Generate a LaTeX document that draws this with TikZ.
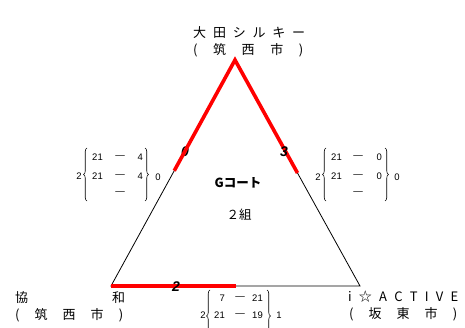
\documentclass[tikz,border=0pt]{standalone}
\usepackage{fontspec}
\setmainfont{Liberation Sans}
\newfontfamily\jpfont{Noto Sans CJK JP}
\usetikzlibrary{calc,decorations.pathreplacing}

\tikzset{
    team/.style={anchor=west, inner sep=0pt, font=\jpfont\fontsize{13}{13}\selectfont},
    pts/.style={inner sep=0pt, font=\bfseries\itshape\fontsize{14}{14}\selectfont},
    res/.style={inner sep=0pt, font=\fontsize{9.5}{10}\selectfont},
    won/.style={red, line width=3.6pt},
    curly/.style={decorate, decoration={brace, amplitude=3.5pt}, line width=0.6pt},
}

\begin{document}
\begin{tikzpicture}[x=1pt,y=-1pt]
    \clip (0,0) rectangle (465,328);
    \fill[white] (0,0) rectangle (465,328);

    \coordinate (top) at (235,60);
    \coordinate (bl) at (111,286);
    \coordinate (br) at (360,286);
    \coordinate (lhalf) at ($(top)!0.49!(bl)$);
    \coordinate (rhalf) at ($(top)!0.5!(br)$);
    \coordinate (bhalf) at ($(bl)!0.5!(br)$);

    \draw[line width=0.8pt] (top) -- (bl) -- (br) -- cycle;
    \node[pts] (p1) at (185,152) {0};
    \draw[won] (lhalf) -- (top) -- (rhalf);
    \draw[won] (bl) -- (bhalf);
    \node[pts] (p2) at (284,152) {3};
    \node[pts] (p3) at (176,287) {2};

    \node[team] (t1) at (193,33) {\makebox[112pt][s]{大\hfill 田\hfill シ\hfill ル\hfill キ\hfill ー}};
    \node[team] (t1b) at (193,50) {\makebox[110pt][s]{(\hfill 筑\hfill 西\hfill 市\hfill )}};
    \node[team] (t2) at (15,298) {\makebox[110pt][s]{協\hfill 和}};
    \node[team] (t2b) at (15,315) {\makebox[108pt][s]{(\hfill 筑\hfill 西\hfill 市\hfill )}};
    \node[team] (t3) at (348,297) {\makebox[110pt][s]{i\hfill ☆\hfill A\hfill C\hfill T\hfill I\hfill V\hfill E}};
    \node[team] (t3b) at (349,314) {\makebox[108pt][s]{(\hfill 坂\hfill 東\hfill 市\hfill )}};

    \node[inner sep=0pt, font=\jpfont\bfseries\fontsize{12.5}{13}\selectfont] (court) at (238,183) {Gコート};
    \node[inner sep=0pt, font=\jpfont\fontsize{12.5}{13}\selectfont] (grp) at (239,215) {２組};

    % 1-2
    \coordinate (a1) at (87,201);
    \coordinate (a2) at (87,148);
    \coordinate (a3) at (145,148);
    \coordinate (a4) at (145,201);
    \draw[curly] (a1) -- (a2);
    \draw[curly] (a3) -- (a4);
    \node[res] (a) at (79,176) {2};
    \node[res] (b) at (158,177) {0};
    \node[res, anchor=east] at (103,157) {21};
    \node[res] at (120,157) {—};
    \node[res, anchor=east] at (143,157) {4};
    \node[res, anchor=east] at (103,176) {21};
    \node[res] at (120,176) {—};
    \node[res, anchor=east] at (143,176) {4};
    \node[res] at (120,193) {—};

    % 1-3
    \coordinate (c1) at (326,201);
    \coordinate (c2) at (326,148);
    \coordinate (c3) at (385,148);
    \coordinate (c4) at (385,201);
    \draw[curly] (c1) -- (c2);
    \draw[curly] (c3) -- (c4);
    \node[res] (c) at (318,177) {2};
    \node[res] (d) at (397,177) {0};
    \node[res, anchor=east] at (342,157) {21};
    \node[res] at (358,157) {—};
    \node[res, anchor=east] at (382,157) {0};
    \node[res, anchor=east] at (342,176) {21};
    \node[res] at (358,176) {—};
    \node[res, anchor=east] at (382,176) {0};
    \node[res] at (358,193) {—};

    % 2-3
    \coordinate (e1) at (210,342);
    \coordinate (e2) at (210,290);
    \coordinate (e3) at (267,290);
    \coordinate (e4) at (267,342);
    \draw[curly] (e1) -- (e2);
    \draw[curly] (e3) -- (e4);
    \node[res] (e) at (203,315) {2};
    \node[res] (f) at (279,315) {1};
    \node[res, anchor=east] at (225,298) {7};
    \node[res] at (240,298) {—};
    \node[res, anchor=east] at (263,298) {21};
    \node[res, anchor=east] at (225,315) {21};
    \node[res] at (240,315) {—};
    \node[res, anchor=east] at (263,315) {19};
\end{tikzpicture}
\end{document}
